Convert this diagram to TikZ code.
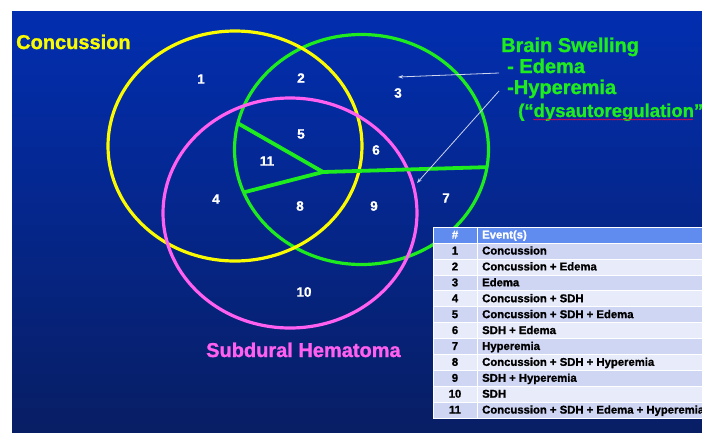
\documentclass[tikz,border=0pt]{standalone}
\usepackage{fontspec}
\setmainfont{Liberation Sans}[BoldFeatures={FakeBold=1.2}]
\definecolor{bgtop}{RGB}{2,46,176}
\definecolor{bgbot}{RGB}{8,30,100}
\definecolor{vyellow}{RGB}{250,250,0}
\definecolor{vgreen}{RGB}{30,236,30}
\definecolor{vpink}{RGB}{255,96,240}
\definecolor{tabhead}{RGB}{96,140,240}
\definecolor{rowA}{RGB}{206,214,244}
\definecolor{rowB}{RGB}{232,235,249}
\usetikzlibrary{arrows.meta,shapes.geometric,decorations.pathmorphing}

\begin{document}
\begin{tikzpicture}[x=1pt,y=-1pt,
  venn/.style={draw,ellipse,line width=3.2pt,minimum width=254pt,minimum height=230pt,outer sep=0pt},
  num/.style={text=white,inner sep=0pt,font=\bfseries\fontsize{13.5}{15}\selectfont},
  lbl/.style={inner sep=0pt,anchor=base west,font=\bfseries\fontsize{20}{22}\selectfont},
  tabtxt/.style={inner sep=0pt,anchor=base west,font=\bfseries\fontsize{11.3}{13}\selectfont},
  ptr/.style={-{Stealth[length=5pt,width=3.5pt]},white!80!bgtop,line width=0.8pt},
  cut/.style={vgreen,line width=3.8pt}
]
  \useasboundingbox (0,0) rectangle (702,432);
  \clip (0,0) rectangle (702,432);
  \fill[white] (0,0) rectangle (702,432);
  \shade[top color=bgtop,bottom color=bgbot] (12,11) rectangle (702,432);

  \node[venn,draw=vgreen] (swell) at (361.5,149.5) {};
  \node[venn,draw=vyellow] (conc) at (235,146) {};
  \node[venn,draw=vpink] (sdh) at (290,213) {};

  \coordinate (hub) at (323,172);
  \draw[cut] (hub) -- (swell.168.9);
  \draw[cut] (hub) -- (swell.200.2);
  \draw[cut] (hub) -- (swell.-8);

  \node[num] (r1) at (201,79) {1};
  \node[num] (r2) at (301,78) {2};
  \node[num] (r3) at (398,93) {3};
  \node[num] (r4) at (216,199) {4};
  \node[num] (r5) at (301,134) {5};
  \node[num] (r6) at (376,150) {6};
  \node[num] (r7) at (446,198) {7};
  \node[num] (r8) at (300,206) {8};
  \node[num] (r9) at (374,206) {9};
  \node[num] (r10) at (304,292) {10};
  \node[num] (r11) at (267,161) {11};

  \node[lbl,text=vyellow] (lconc) at (16,49) {Concussion};
  \node[lbl,text=vpink] (lsdh) at (206,357) {Subdural Hematoma};
  \node[lbl,text=vgreen] (lswell) at (501,52) {Brain Swelling};
  \node[lbl,text=vgreen] (edm) at (507,73) {- Edema};
  \node[lbl,text=vgreen] (hyp) at (507,94) {-Hyperemia};
  \node[lbl,text=vgreen,font=\bfseries\fontsize{18.5}{20}\selectfont] (dys) at (518,117) {(“dysautoregulation”)};
  \draw[red!75!magenta,line width=0.5pt,decorate,decoration={snake,amplitude=0.6pt,segment length=2.5pt}]
    ([xshift=15pt,yshift=-2.5pt]dys.base west) -- ++(160,0);

  \coordinate (tipA) at (398,77);
  \coordinate (tipB) at (417,183);
  \draw[ptr] ([xshift=-8pt]edm.base west) -- (tipA);
  \draw[ptr] ([xshift=-8pt,yshift=3pt]hyp.base west) -- (tipB);

  \path[fill=tabhead,draw=white,line width=0.6pt] (433,227) rectangle (710,243);
  \node[tabtxt,anchor=base,text=white] (hnum) at (455,238.5) {\#};
  \node[tabtxt,text=white] (hev) at (482,238.5) {Event(s)};
  \foreach \ev [count=\i] in {Concussion, Concussion + Edema, Edema, Concussion + SDH,
      Concussion + SDH + Edema, SDH + Edema, Hyperemia, Concussion + SDH + Hyperemia,
      SDH + Hyperemia, SDH, Concussion + SDH + Edema + Hyperemia} {
    \ifodd\i\relax\def\rc{rowA}\else\def\rc{rowB}\fi
    \path[fill=\rc,draw=white,line width=0.6pt] (433,{243+(\i-1)*15.909}) rectangle (710,{243+\i*15.909});
    \node[tabtxt,anchor=base] (n\i) at (455,{254.5+(\i-1)*15.909}) {\i};
    \node[tabtxt] (ev\i) at (482,{254.5+(\i-1)*15.909}) {\ev};
  }
  \draw[white,line width=0.6pt] (477,227) -- (477,418);
\end{tikzpicture}
\end{document}
